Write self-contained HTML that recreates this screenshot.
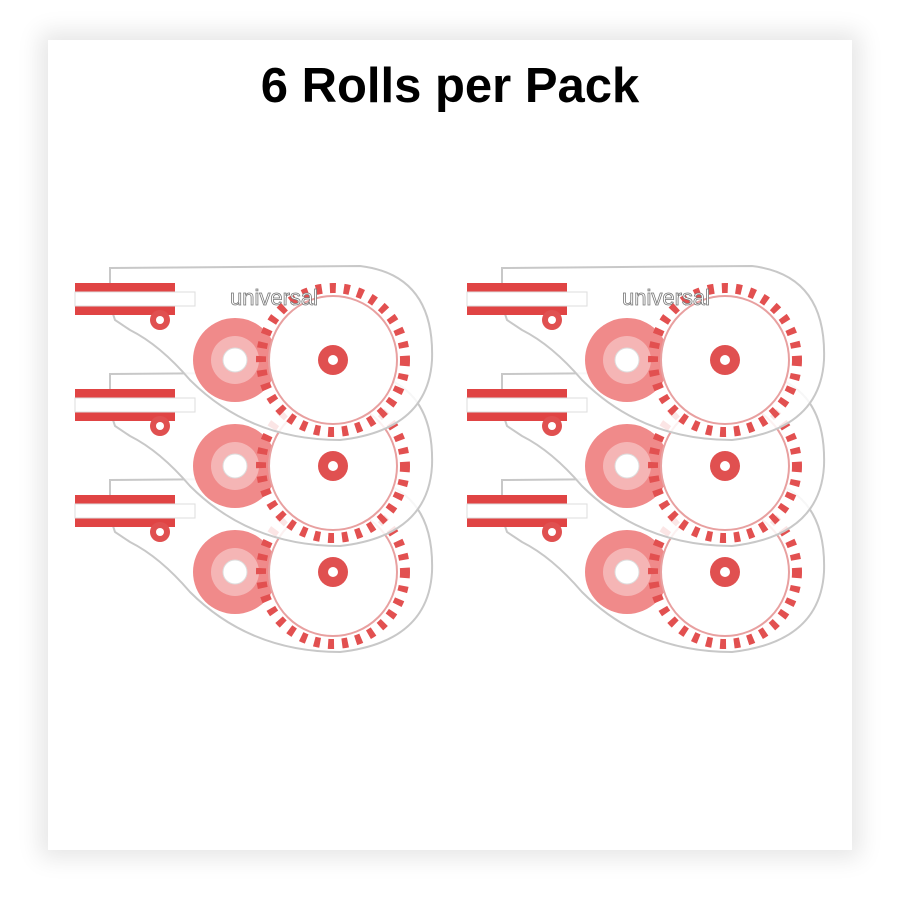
<!DOCTYPE html>
<html><head><style>
html,body{margin:0;padding:0;background:#fff;}
.wrap{position:relative;width:900px;height:900px;background:#fff;overflow:hidden}
.card{position:absolute;left:48px;top:40px;width:804px;height:810px;background:#fff;box-shadow:0 0 22px 8px rgba(0,0,0,0.10)}
h1{position:absolute;top:58px;left:0;width:900px;text-align:center;margin:0;font:bold 49px "Liberation Sans",sans-serif;color:#000}
svg{position:absolute;left:0;top:0}
</style></head><body><div class="wrap">
<div class="card"></div>
<h1>6 Rolls per Pack</h1>
<svg width="900" height="900" viewBox="0 0 900 900">
<defs>
<g id="d">
<path d="M110,268 L360,266 Q435,275 432,360 Q428,430 340,440 Q250,440 190,380 Q160,345 130,330 L115,320 L110,305 Z" fill="#fff" fill-opacity="0.85" stroke="#c8c8c8" stroke-width="2"/>
<rect x="75" y="283" width="100" height="9" fill="#e04444"/>
<rect x="75" y="306" width="100" height="9" fill="#e04444"/>
<rect x="75" y="292" width="120" height="14" fill="#fff" stroke="#ddd"/>
<circle cx="160" cy="320" r="10" fill="#e05050"/><circle cx="160" cy="320" r="4" fill="#fff"/>
<circle cx="235" cy="360" r="42" fill="#f08a8a"/>
<circle cx="235" cy="360" r="24" fill="#f5b5b5"/>
<circle cx="235" cy="360" r="12" fill="#fff" stroke="#ddd"/>
<circle cx="333" cy="360" r="72" fill="none" stroke="#e25050" stroke-width="10" stroke-dasharray="6 8"/>
<circle cx="333" cy="360" r="64" fill="#fff" stroke="#e8a0a0" stroke-width="2"/>
<circle cx="333" cy="360" r="15" fill="#e05050"/>
<circle cx="333" cy="360" r="5" fill="#fff"/>
</g>
</defs>
<use href="#d" transform="translate(0,212)"/>
<use href="#d" transform="translate(0,106)"/>
<use href="#d"/>
<use href="#d" transform="translate(392,212)"/>
<use href="#d" transform="translate(392,106)"/>
<use href="#d" transform="translate(392,0)"/>
<g font-family="Liberation Sans,sans-serif" font-size="22" fill="#fff" stroke="#777" stroke-width="0.8">
<text x="230" y="305">universal</text>
<text x="622" y="305">universal</text>
</g>
</svg>
</div></body></html>
